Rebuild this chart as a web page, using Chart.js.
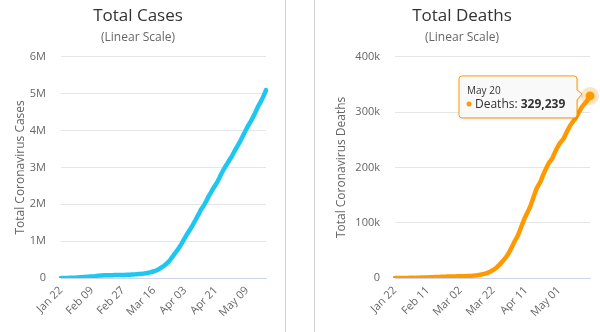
<!DOCTYPE html>
<html>
<head>
<meta charset="utf-8">
<script src="https://cdn.jsdelivr.net/npm/chart.js@4.4.1/dist/chart.umd.min.js"></script>
<style>
  html, body { margin: 0; padding: 0; background: #fff; }
  body { width: 600px; height: 332px; position: relative; overflow: hidden; }
  .panel { position: absolute; top: 0; height: 332px; }
  #casesBox { left: 0; width: 276px; }
  #deathsBox { left: 315px; width: 285px; }
  .divider { position: absolute; top: 0; width: 1px; height: 332px; background: #d0d0d0; }
</style>
</head>
<body>
<div class="divider" style="left:285px"></div>
<div class="divider" style="left:314px"></div>
<div class="panel" id="casesBox"><canvas id="cases"></canvas></div>
<div class="panel" id="deathsBox"><canvas id="deaths"></canvas></div>
<script>
// Daily totals, Jan 22 - May 20
const totalCases = [
  580, 845, 1317, 2015, 2800, 4581, 6058, 7813, 9823, 11950,
  14553, 17391, 20630, 24545, 28266, 31439, 34876, 37552, 40553, 43099,
  45134, 59287, 64438, 67100, 69197, 71329, 73332, 75184, 75700, 76677,
  77673, 78651, 79205, 80087, 80828, 81820, 83112, 84615, 86604, 88585,
  90443, 93016, 95314, 98425, 102050, 106099, 109991, 114381, 118948, 126214,
  134576, 145483, 156653, 169593, 182490, 198238, 218822, 244933, 275597, 305036,
  337489, 378287, 418041, 467653, 529591, 593291, 660706, 720117, 782365, 857487,
  932605, 1013466, 1095917, 1176060, 1249754, 1321481, 1396476, 1479804, 1565278, 1657526,
  1735650, 1834721, 1904838, 1976191, 2056054, 2152437, 2240190, 2317758, 2401378, 2472259,
  2549123, 2630000, 2718000, 2822000, 2910000, 2990000, 3063000, 3140000, 3220000, 3286000,
  3375000, 3462000, 3544000, 3624000, 3706000, 3800000, 3893000, 3988000, 4077000, 4157000,
  4235000, 4322000, 4410000, 4508000, 4610000, 4705000, 4787000, 4878000, 4977000, 5095000
];
const totalDeaths = [
  17, 25, 41, 56, 80, 106, 132, 170, 213, 259,
  304, 362, 426, 492, 565, 638, 724, 813, 910, 1018,
  1115, 1261, 1383, 1526, 1669, 1775, 1873, 2009, 2126, 2247,
  2360, 2460, 2618, 2699, 2763, 2800, 2858, 2923, 2977, 3050,
  3117, 3202, 3285, 3387, 3494, 3599, 3827, 4025, 4296, 4628,
  4981, 5428, 5833, 6520, 7160, 7955, 8971, 10018, 11433, 13048,
  14641, 16500, 18904, 21819, 24648, 28156, 31704, 34814, 38715, 43354,
  48290, 54216, 60004, 66138, 71458, 77042, 84599, 92168, 99720, 107244,
  113578, 119520, 125557, 132960, 141379, 150037, 158658, 165093, 169958, 175686,
  183213, 190044, 196853, 202961, 208488, 212284, 216386, 223071, 229874, 235486,
  240877, 245346, 248894, 252620, 258891, 265115, 270764, 276237, 280290, 283980,
  287717, 293331, 298663, 303732, 308822, 312852, 316166, 319590, 324581, 329239
];

// Category labels: one per day from Jan 22
const months = ['Jan', 'Feb', 'Mar', 'Apr', 'May'];
const dayLabels = [];
for (let i = 0; i < totalCases.length; i++) {
  const d = new Date(2020, 0, 22 + i);
  dayLabels.push(months[d.getMonth()] + ' ' + String(d.getDate()).padStart(2, '0'));
}

const FONT = '"Open Sans", "Noto Sans", sans-serif';
Chart.defaults.font.family = FONT;
Chart.defaults.color = '#666';

function makeConfig(opts) {
  return {
    type: 'line',
    data: {
      labels: dayLabels,
      datasets: [{
        label: opts.seriesName,
        data: opts.values,
        borderColor: opts.color,
        backgroundColor: opts.color,
        borderWidth: 4.5,
        borderCapStyle: 'round',
        borderJoinStyle: 'round',
        tension: 0,
        pointRadius: 0,
        pointHoverRadius: 0,
        pointBorderWidth: 0,
      }],
    },
    options: {
      responsive: false,
      animation: false,
      events: [],
      layout: { padding: { left: opts.padLeft, right: opts.padRight, top: 0, bottom: 0 } },
      plugins: {
        legend: { display: false },
        tooltip: { enabled: false },
        title: {
          display: true,
          text: opts.title,
          color: '#333',
          font: { size: 17, weight: 'normal' },
          padding: { top: 6, bottom: 0 },
        },
        subtitle: {
          display: true,
          text: '(Linear Scale)',
          color: '#666',
          font: { size: 12 },
          padding: { top: 4, bottom: 12 },
        },
      },
      scales: {
        x: {
          type: 'category',
          offset: false,
          grid: { display: false, drawTicks: false },
          border: { display: true, color: '#ccd6eb', width: 1 },
          afterFit: scale => { scale.height = 54; },
          ticks: {
            autoSkip: false,
            maxRotation: 45,
            minRotation: 45,
            padding: 6,
            color: '#666',
            font: { size: 11 },
            callback: (val, idx) => (idx % opts.every === 0 ? dayLabels[idx] : null),
          },
        },
        y: {
          min: 0,
          max: opts.max,
          grid: { color: '#e6e6e6', drawTicks: false },
          border: { display: false },
          afterFit: scale => { scale.width = opts.yWidth; },
          title: {
            display: true,
            text: opts.yTitle,
            color: '#666',
            font: { size: 12 },
            padding: { top: opts.yTitlePad, bottom: 0 },
          },
          ticks: {
            stepSize: opts.step,
            padding: 15,
            color: '#666',
            font: { size: 11 },
            callback: opts.tickFmt,
          },
        },
      },
    },
  };
}

// Cases chart
const casesCanvas = document.getElementById('cases');
casesCanvas.width = 276;
casesCanvas.height = 332;
new Chart(casesCanvas, makeConfig({
  title: 'Total Cases',
  seriesName: 'Cases',
  values: totalCases,
  color: '#1ec6f2',
  max: 6000000,
  step: 1000000,
  every: 18,
  yTitle: 'Total Coronavirus Cases',
  yTitlePad: 3,
  yWidth: 51,
  padLeft: 10,
  padRight: 10,
  tickFmt: v => (v === 0 ? '0' : v / 1000000 + 'M'),
}));

// Highcharts-like tooltip on the last deaths point
const hoverTip = {
  id: 'hoverTip',
  afterDatasetsDraw(chart) {
    const meta = chart.getDatasetMeta(0);
    const last = meta.data.length - 1;
    const pt = meta.data[last];
    const value = chart.data.datasets[0].data[last];
    const ctx = chart.ctx;
    const x = pt.x, y = pt.y;
    ctx.save();
    // halo
    ctx.fillStyle = 'rgba(255,153,0,0.25)';
    ctx.beginPath();
    ctx.arc(x, y, 9, 0, Math.PI * 2);
    ctx.fill();
    ctx.fillStyle = '#ff9900';
    ctx.beginPath();
    ctx.arc(x, y, 4.5, 0, Math.PI * 2);
    ctx.fill();

    // box
    const bw = 118, bh = 42;
    const bx = x - 13 - bw, by = y - 20;
    const r = 3;
    ctx.shadowColor = 'rgba(0,0,0,0.15)';
    ctx.shadowOffsetX = 1;
    ctx.shadowOffsetY = 1;
    ctx.shadowBlur = 3;
    ctx.beginPath();
    ctx.moveTo(bx + r, by);
    ctx.lineTo(bx + bw - r, by);
    ctx.quadraticCurveTo(bx + bw, by, bx + bw, by + r);
    ctx.lineTo(bx + bw, y - 6);
    ctx.lineTo(bx + bw + 5, y - 2);
    ctx.lineTo(bx + bw, y + 4);
    ctx.lineTo(bx + bw, by + bh - r);
    ctx.quadraticCurveTo(bx + bw, by + bh, bx + bw - r, by + bh);
    ctx.lineTo(bx + r, by + bh);
    ctx.quadraticCurveTo(bx, by + bh, bx, by + bh - r);
    ctx.lineTo(bx, by + r);
    ctx.quadraticCurveTo(bx, by, bx + r, by);
    ctx.closePath();
    ctx.fillStyle = 'rgba(250,250,250,0.95)';
    ctx.fill();
    ctx.shadowColor = 'transparent';
    ctx.strokeStyle = '#ff9900';
    ctx.lineWidth = 1;
    ctx.stroke();

    // text
    ctx.textBaseline = 'alphabetic';
    ctx.textAlign = 'left';
    ctx.fillStyle = '#333';
    ctx.font = '10px ' + FONT;
    ctx.fillText(chart.data.labels[last], bx + 8, by + 18);
    ctx.fillStyle = '#ff9900';
    ctx.beginPath();
    ctx.arc(bx + 10, by + 28, 2.5, 0, Math.PI * 2);
    ctx.fill();
    ctx.fillStyle = '#333';
    ctx.font = '12px ' + FONT;
    const lbl = 'Deaths: ';
    ctx.fillText(lbl, bx + 16, by + 32);
    const lw = ctx.measureText(lbl).width;
    ctx.font = 'bold 12px ' + FONT;
    ctx.fillText(value.toLocaleString('en-US'), bx + 16 + lw, by + 32);
    ctx.restore();
  },
};

// Deaths chart
const deathsCanvas = document.getElementById('deaths');
deathsCanvas.width = 285;
deathsCanvas.height = 332;
const deathsConfig = makeConfig({
  title: 'Total Deaths',
  seriesName: 'Deaths',
  values: totalDeaths,
  color: '#ff9900',
  max: 400000,
  step: 100000,
  every: 20,
  yTitle: 'Total Coronavirus Deaths',
  yTitlePad: 0,
  yWidth: 61,
  padLeft: 19,
  padRight: 10,
  tickFmt: v => (v === 0 ? '0' : v / 1000 + 'k'),
});
deathsConfig.plugins = [hoverTip];
new Chart(deathsCanvas, deathsConfig);
</script>
</body>
</html>
